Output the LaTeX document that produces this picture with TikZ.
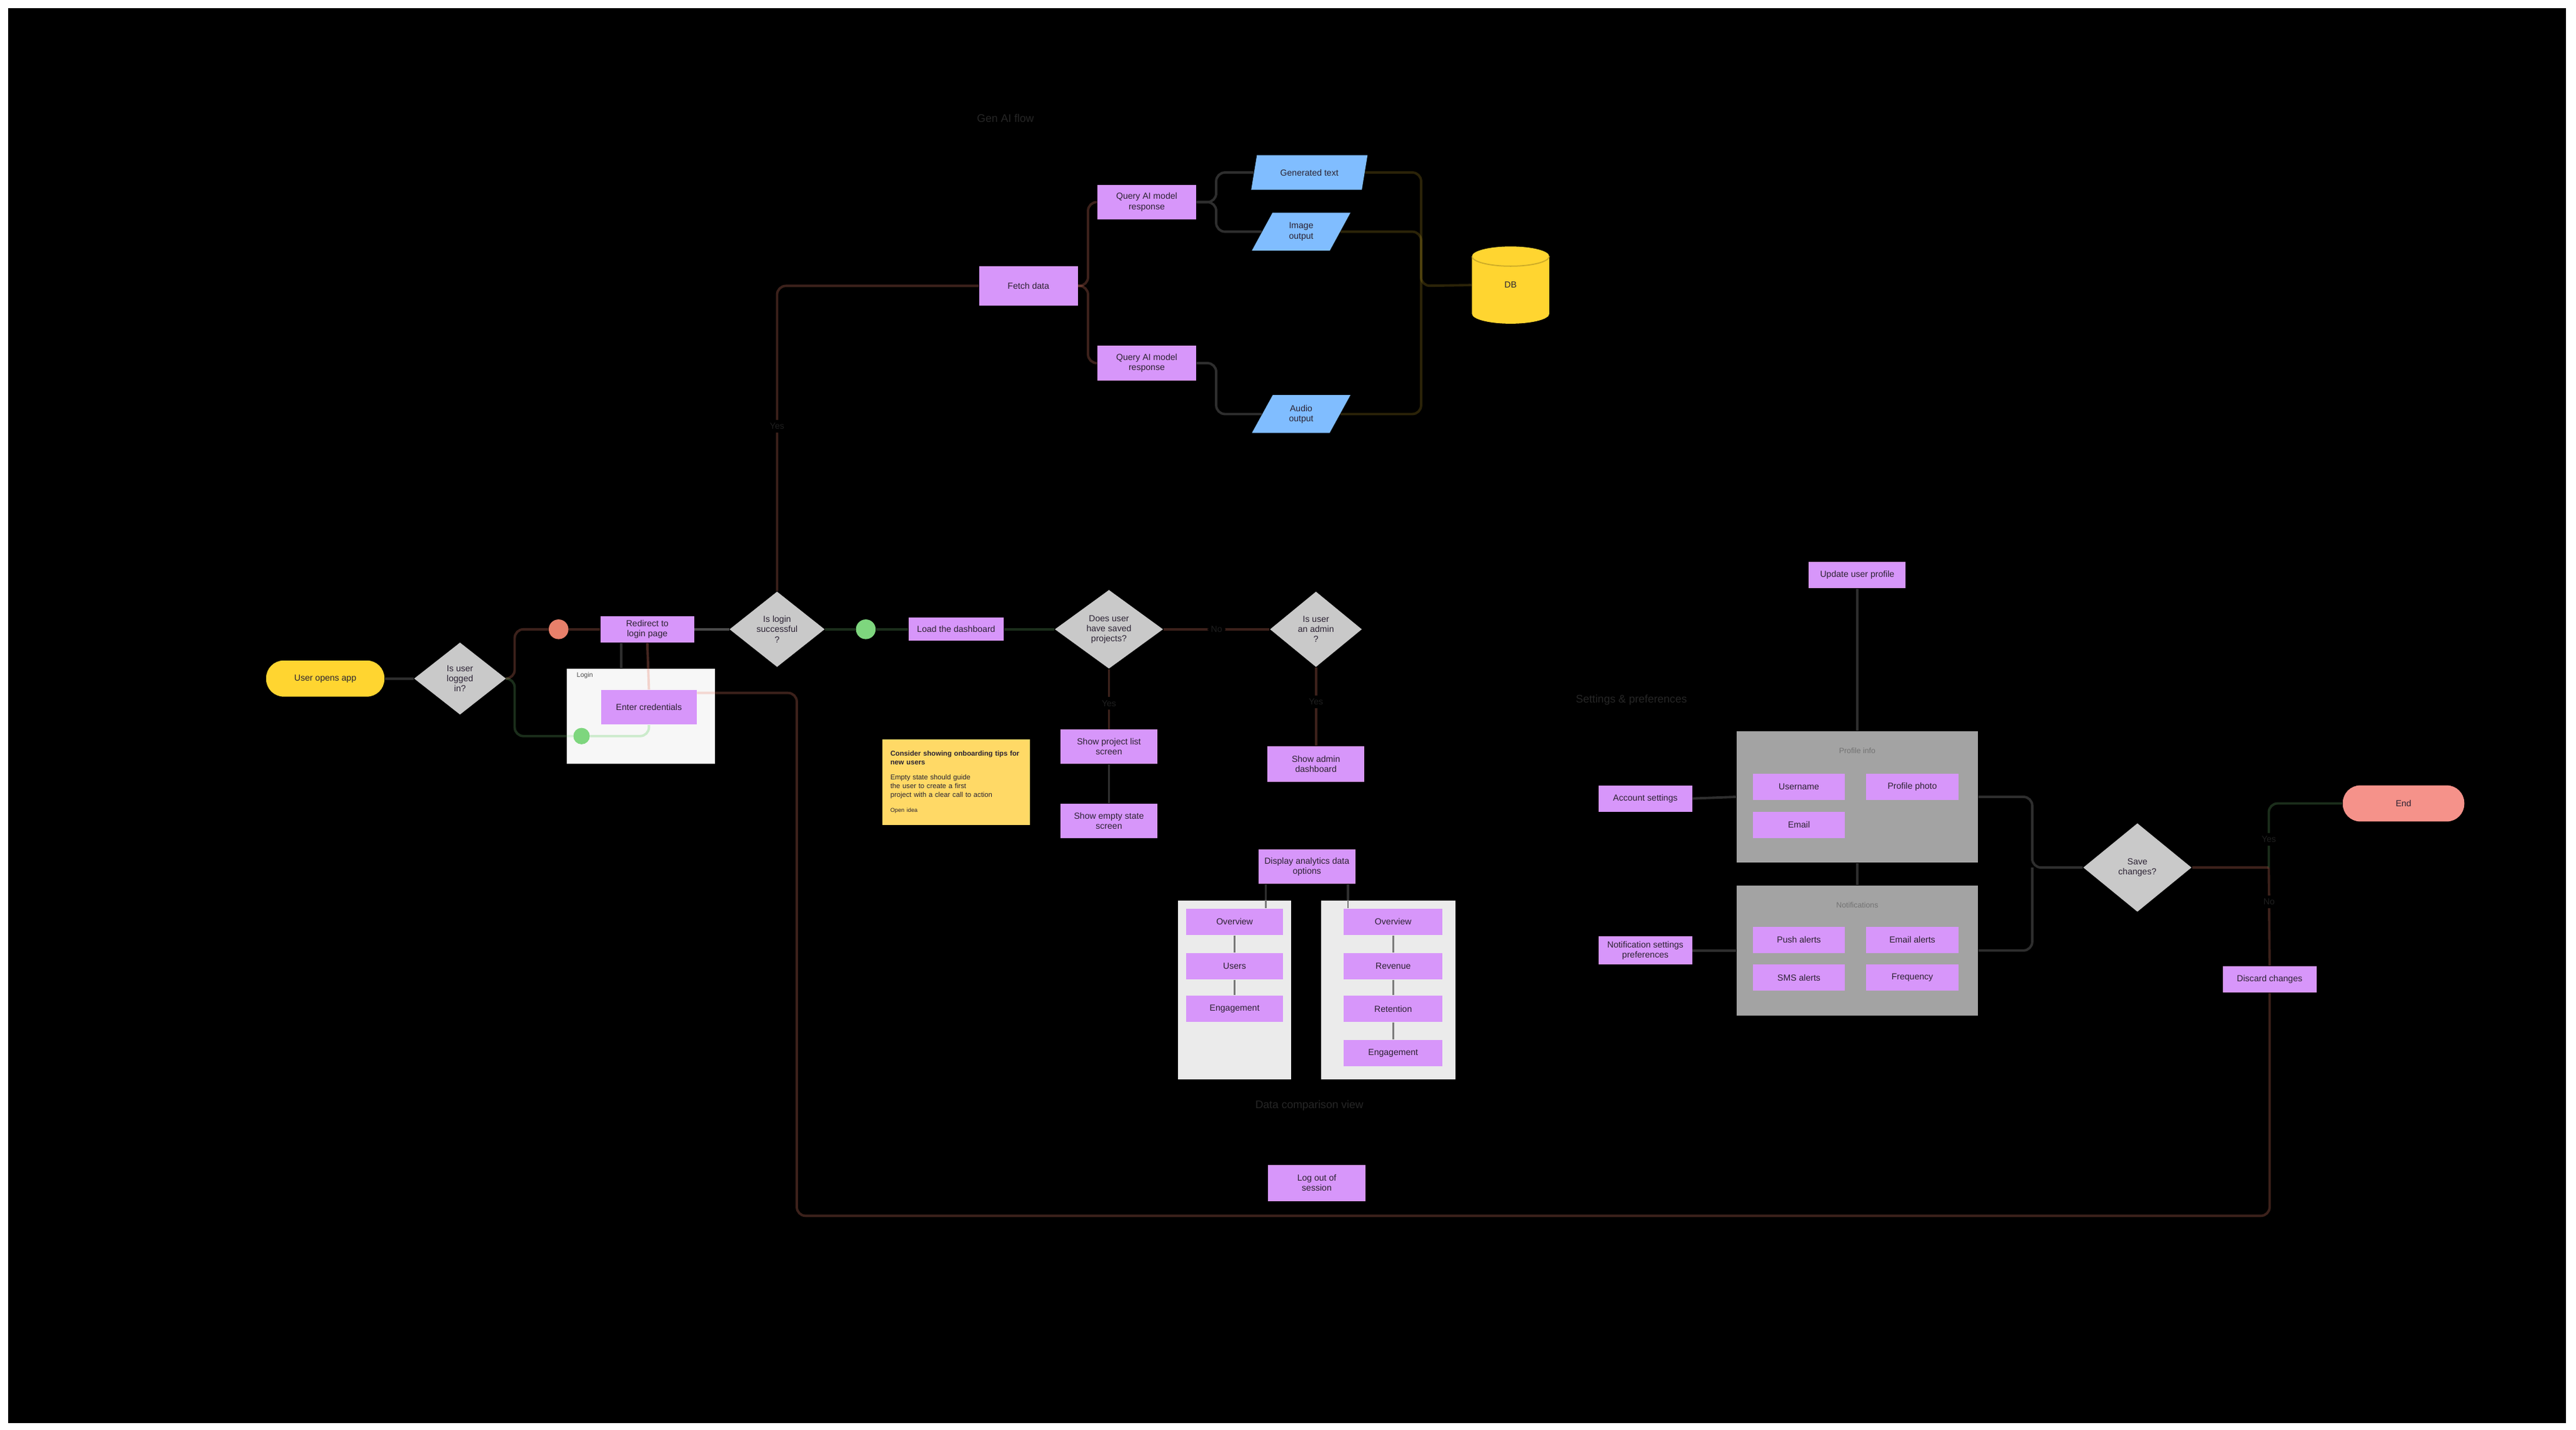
\documentclass[tikz,border=0pt]{standalone}
\usepackage{fontspec}
\setmainfont{Liberation Sans}
\usetikzlibrary{shapes.geometric,calc}
\def\U{0.748pt}
\definecolor{purp}{HTML}{D796FA}
\definecolor{dgray}{HTML}{C9C9C9}
\definecolor{startY}{HTML}{FFD530}
\definecolor{noteY}{HTML}{FFD966}
\definecolor{blueP}{HTML}{80BDFF}
\definecolor{endR}{HTML}{F5928A}
\definecolor{dotO}{HTML}{E8806A}
\definecolor{dotG}{HTML}{7ED67E}
\definecolor{contW}{HTML}{F7F7F7}
\definecolor{contL}{HTML}{EBEBEB}
\definecolor{contG}{HTML}{A3A3A3}
\definecolor{lnGray}{HTML}{2E2E2E}
\definecolor{lnInner}{HTML}{7A7A7A}
\definecolor{lnLight}{HTML}{4A4A4A}
\definecolor{txt}{HTML}{2B2233}
\definecolor{dimtxt}{HTML}{262626}
\tikzset{
  base/.style={font=\fontsize{4}{4.6}\selectfont, text=txt, align=center, inner sep=0pt},
  wh/.style 2 args={minimum width=#1*\U, minimum height=#2*\U},
  pb/.style={base, rectangle, fill=purp},
  dia/.style={base, diamond, fill=dgray},
  pill/.style={base, rectangle, rounded corners=8pt},
  dot/.style={circle, inner sep=0pt, minimum size=10*\U},
  cont/.style={rectangle, inner sep=0pt},
  para/.style={base, trapezium, trapezium left angle=64, trapezium right angle=116, trapezium stretches=true, fill=blueP},
  dimlabel/.style={font=\fontsize{5}{6}\selectfont, text=dimtxt, inner sep=0pt},
  gap/.style={fill=black, text=black!88!white, font=\fontsize{4}{4.6}\selectfont, inner sep=1.5pt},
  ln/.style={line width=1.1pt, rounded corners=4pt},
  lnBrown/.style={draw=dotO, draw opacity=0.26},
  lnGreen/.style={draw=dotG, draw opacity=0.22},
  lnOlive/.style={draw=startY, draw opacity=0.17},
  lnIn/.style={draw=lnInner, line width=0.8pt},
}
\begin{document}
\begin{tikzpicture}[x=\U, y=-\U]
\useasboundingbox (0,0) rectangle (1568,870);
\fill[white] (0,0) rectangle (1568,870);
\fill[black] (5,5) rectangle (1562,866);

% ---------- top section ----------
\node[dimlabel] (title) at (612,72) {Gen AI flow};
\node[pb, wh={60}{24}] (pa) at (626,174) {Fetch data};
\node[pb, wh={60}{21}] (pb1) at (698,123) {Query AI model\\response};
\node[pb, wh={60}{21}] (pc1) at (698,221) {Query AI model\\response};
\node[para, wh={71}{21}] (b1) at (797,105) {Generated text};
\node[para, wh={60}{23}] (b2) at (792,141) {Image\\output};
\node[para, wh={60}{23}] (b3) at (792,252) {Audio\\output};
\fill[startY] (896,156) -- (896,191) arc[start angle=180, end angle=360, x radius=23.5*\U, y radius=6*\U] -- (943,156) arc[start angle=0, end angle=180, x radius=23.5*\U, y radius=6*\U] -- cycle;
\draw[startY!80!black, line width=0.5pt] (896,156) arc[start angle=180, end angle=360, x radius=23.5*\U, y radius=6*\U];
\node[base, rectangle, wh={47}{47}] (db) at (919.5,173.5) {DB};

% ---------- main row ----------
\node[pill, fill=startY, wh={72}{22}] (start) at (198,413) {User opens app};
\node[dia, wh={56}{44}] (d1) at (280,413) {Is user\\logged\\in?};
\node[dot, fill=dotO, minimum height=12*\U] (od) at (340,383) {};
\node[pb, wh={57}{16}] (p1) at (394,383) {Redirect to\\login page};
\node[cont, fill=contW, wh={90}{58}] (c1) at (390,436) {};
\node[dimlabel, font=\fontsize{3}{3.5}\selectfont, text=black!70] (c1lbl) at (356,411) {Login};
\node[pb, wh={58}{21}] (c1in) at (395,430.5) {Enter credentials};
\node[dot, fill=dotG] (gd1) at (354,448) {};
\node[dia, wh={58}{46}] (d2) at (473,383) {Is login\\successful\\?};
\node[dot, fill=dotG, minimum height=12*\U] (gd2) at (527,383) {};
\node[pb, wh={58}{14}] (p2) at (582,383) {Load the dashboard};
\node[dia, wh={66}{48}] (d3) at (675,383) {Does user\\have saved\\projects?};
\node[dia, wh={56}{46}] (d4) at (801,383) {Is user\\an admin\\?};
\node[pb, wh={59}{21}] (p3) at (675,454.5) {Show project list\\screen};
\node[pb, wh={59}{21}] (p4) at (675,499.5) {Show empty state\\screen};
\node[pb, wh={59}{22}] (p5) at (801,465) {Show admin\\dashboard};
\node[base, rectangle, fill=noteY, wh={90}{52}, text width=80*\U, align=left, font=\fontsize{3.2}{3.9}\selectfont] (note) at (582,476)
  {\textbf{Consider showing onboarding tips for\\new users}\\[3pt] Empty state should guide\\ the user to create a first\\ project with a clear call to action\\[3pt] {\fontsize{2.6}{3}\selectfont Open idea}};

% ---------- comparison containers ----------
\node[pb, wh={59}{21}] (p6) at (795.5,527.5) {Display analytics data\\options};
\node[cont, fill=contL, wh={69}{109}] (c2) at (751.5,602.5) {};
\node[cont, fill=contL, wh={82}{109}] (c3) at (845,602.5) {};
\node[pb, wh={59}{16}] (c2a) at (751.5,561) {Overview};
\node[pb, wh={59}{16}] (c2b) at (751.5,588) {Users};
\node[pb, wh={59}{16}] (c2c) at (751.5,614) {Engagement};
\node[pb, wh={60}{16}] (c3a) at (848,561) {Overview};
\node[pb, wh={60}{16}] (c3b) at (848,588) {Revenue};
\node[pb, wh={60}{16}] (c3c) at (848,614) {Retention};
\node[pb, wh={60}{16}] (c3d) at (848,641) {Engagement};
\node[dimlabel] (cap) at (797,673) {Data comparison view};
\node[pb, wh={59}{22}] (p11) at (801.5,720) {Log out of\\session};

% ---------- right section ----------
\node[dimlabel] (rlbl) at (993,426) {Settings \& preferences};
\node[pb, wh={59}{16}] (p7) at (1130.5,350) {Update user profile};
\node[cont, fill=contG, wh={147}{80}] (g1) at (1130.5,485) {};
\node[cont, fill=contG, wh={147}{79}] (g2) at (1130.5,578.5) {};
\node[dimlabel, text=black!30!contG, font=\fontsize{3.5}{4}\selectfont] (g1t) at (1130.5,457) {Profile info};
\node[dimlabel, text=black!30!contG, font=\fontsize{3.5}{4}\selectfont] (g2t) at (1130.5,551) {Notifications};
\node[pb, wh={56}{16}] (g1a) at (1095,479) {Username};
\node[pb, wh={56}{16}] (g1b) at (1164,479) {Profile photo};
\node[pb, wh={56}{16}] (g1c) at (1095,502) {Email};
\node[pb, wh={56}{16}] (g2a) at (1095,572) {Push alerts};
\node[pb, wh={56}{16}] (g2b) at (1164,572) {Email alerts};
\node[pb, wh={56}{16}] (g2c) at (1095,595) {SMS alerts};
\node[pb, wh={56}{16}] (g2d) at (1164,595) {Frequency};
\node[pb, wh={57}{16}] (p8) at (1001.5,486) {Account settings};
\node[pb, wh={57}{17}] (p9) at (1001.5,578.5) {Notification settings\\preferences};
\node[dia, wh={66}{54}] (d5) at (1301,528) {Save\\changes?};
\node[pill, fill=endR, wh={74}{22}] (end) at (1463,489) {End};
\node[pb, wh={57}{16}] (p10) at (1381.5,596) {Discard changes};

\coordinate (trA) at (865,174);
\coordinate (trB) at (1237,528);
\coordinate (sp) at (1381,528);
\coordinate (lb) at (485,740);

% ---------- connectors ----------
\draw[ln, lnGray] (start.east) -- (d1.west);
\draw[ln, lnBrown] (d1.east) -- ++(5,0) |- (od.west);
\draw[ln, lnBrown] (od.east) -- (p1.west);
\draw[ln, lnGreen] (d1.east) -- ++(5,0) |- (gd1.west);
\draw[ln, lnGreen, draw opacity=0.35] (gd1.east) -| (c1in.south);
\draw[ln, lnGray] ([xshift=-16*\U]p1.south) -- ([xshift=-16*\U]p1.south |- c1.north);
\draw[ln, lnBrown, draw opacity=0.3] (p1.south) -- (c1in.north);
\draw[ln, lnLight] (p1.east) -- (d2.west);
\draw[ln, lnBrown] (d2.north) |- node[gap, pos=0.27] {Yes} (pa.west);
\draw[ln, lnBrown] (pa.east) -- ++(6,0) |- (pb1.west);
\draw[ln, lnBrown] (pa.east) -- ++(6,0) |- (pc1.west);
\draw[ln, lnGray] (pb1.east) -- ++(12,0) |- (b1.west);
\draw[ln, lnGray] (pb1.east) -- ++(12,0) |- (b2.west);
\draw[ln, lnGray] (pc1.east) -- ++(12,0) |- (b3.west);
\draw[ln, lnOlive] (b1.east) -| (trA) -- (db.west);
\draw[ln, lnOlive] (b2.east) -| (trA);
\draw[ln, lnOlive] (b3.east) -| (trA);
\draw[ln, lnGreen] (d2.east) -- (gd2.west);
\draw[ln, lnGreen] (gd2.east) -- (p2.west);
\draw[ln, lnGreen] (p2.east) -- (d3.west);
\draw[ln, lnBrown] (d3.east) -- node[gap, pos=0.5] {No} (d4.west);
\draw[ln, lnBrown] (d3.south) -- node[gap, pos=0.57] {Yes} (p3.north);
\draw[ln, lnGray] (p3.south) -- (p4.north);
\draw[ln, lnBrown] (d4.south) -- node[gap, pos=0.44] {Yes} (p5.north);
\draw[ln, lnGray] ([xshift=-25*\U]p6.south) -- ([xshift=-25*\U]p6.south |- c2.north);
\draw[ln, lnGray] ([xshift=25*\U]p6.south) -- ([xshift=25*\U]p6.south |- c3.north);
\draw[lnIn] ([xshift=-25*\U]p6.south |- c2.north) -- ([xshift=-25*\U]p6.south |- c2a.north);
\draw[lnIn] ([xshift=25*\U]p6.south |- c3.north) -- ([xshift=25*\U]p6.south |- c3a.north);
\draw[lnIn] (c2a.south) -- (c2b.north);
\draw[lnIn] (c2b.south) -- (c2c.north);
\draw[lnIn] (c3a.south) -- (c3b.north);
\draw[lnIn] (c3b.south) -- (c3c.north);
\draw[lnIn] (c3c.south) -- (c3d.north);
\draw[ln, lnGray] (p7.south) -- (g1.north);
\draw[ln, lnGray] (g1.south) -- (g2.north);
\draw[ln, lnGray] (p8.east) -- (g1.west);
\draw[ln, lnGray] (p9.east) -- (g2.west);
\draw[ln, lnGray] (g1.east) -| (trB) -- (d5.west);
\draw[ln, lnGray] (g2.east) -| (trB);
\draw[ln, lnBrown] (d5.east) -- (sp);
\draw[ln, lnGreen] (sp) |- node[gap, pos=0.22] {Yes} (end.west);
\draw[ln, lnBrown] (sp) -- node[gap, pos=0.35] {No} (p10.north);
\draw[ln, lnBrown] (p10.south) |- (lb) |- ([yshift=-2*\U]c1in.north east);
\end{tikzpicture}
\end{document}
